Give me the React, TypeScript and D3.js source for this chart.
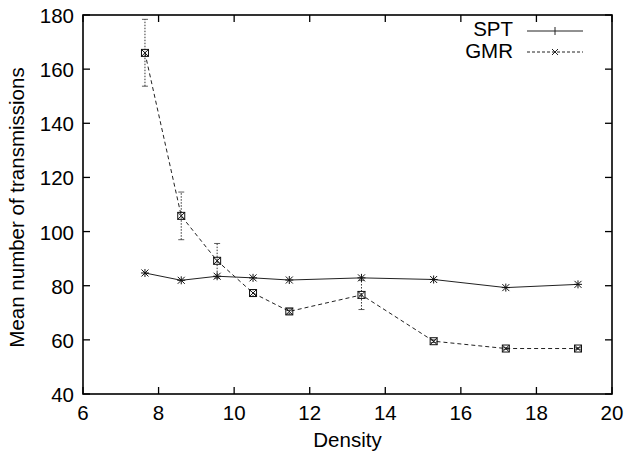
import React from "react";
import * as d3 from "d3";

const density = [7.64, 8.6, 9.55, 10.5, 11.46, 13.37, 15.28, 17.19, 19.1];
const sptValues = [84.7, 82.0, 83.5, 82.9, 82.1, 82.9, 82.3, 79.3, 80.5];
const gmrValues = [166.0, 105.8, 89.2, 77.3, 70.5, 76.6, 59.5, 56.8, 56.8];
const gmrLow = [153.7, 97.0, 82.8, 76.0, 69.5, 71.2, 59.0, 56.5, 56.5];
const gmrHigh = [178.4, 114.6, 95.6, 78.6, 71.5, 82.0, 60.0, 57.1, 57.1];
const xTicks = [6, 8, 10, 12, 14, 16, 18, 20];
const yTicks = [40, 60, 80, 100, 120, 140, 160, 180];
const seriesNames = ["SPT", "GMR"];

const W = 625;
const H = 457;
const M = { left: 83, right: 612, top: 15, bottom: 394 };
const FONT = "'Liberation Sans', Arial, Helvetica, sans-serif";
const FS = 20.5;

export default function App() {
  const x = d3.scaleLinear().domain([6, 20]).range([M.left, M.right]);
  const y = d3.scaleLinear().domain([40, 180]).range([M.bottom, M.top]);
  const line = d3
    .line<number>()
    .x((_, i) => x(density[i]))
    .y((d) => y(d));
  const tl = 7;
  const stroke = "#222";

  const star = (cx: number, cy: number, key: string) => (
    <g key={key} stroke="#111" strokeWidth={1}>
      <line x1={cx - 4} x2={cx + 4} y1={cy} y2={cy} />
      <line x1={cx} x2={cx} y1={cy - 4} y2={cy + 4} />
      <line x1={cx - 3.5} x2={cx + 3.5} y1={cy - 3.5} y2={cy + 3.5} />
      <line x1={cx - 3.5} x2={cx + 3.5} y1={cy + 3.5} y2={cy - 3.5} />
    </g>
  );
  const boxX = (cx: number, cy: number, key: string) => (
    <g key={key} stroke="#111" strokeWidth={1} fill="none">
      <rect x={cx - 3.5} y={cy - 3.5} width={7} height={7} />
      <line x1={cx - 3.5} x2={cx + 3.5} y1={cy - 3.5} y2={cy + 3.5} />
      <line x1={cx - 3.5} x2={cx + 3.5} y1={cy + 3.5} y2={cy - 3.5} />
    </g>
  );

  return (
    <svg
      width={W}
      height={H}
      style={{ position: "absolute", left: 0, top: 0 }}
      fontFamily={FONT}
    >
      <rect width={W} height={H} fill="#fff" />
      {xTicks.map((t) => (
        <g key={"xt" + t}>
          <line x1={x(t)} x2={x(t)} y1={M.bottom} y2={M.bottom - tl} stroke="#000" strokeWidth={1.3} />
          <line x1={x(t)} x2={x(t)} y1={M.top} y2={M.top + tl} stroke="#000" strokeWidth={1.3} />
          <text x={x(t)} y={420} textAnchor="middle" fontSize={FS} fill="#000">
            {t}
          </text>
        </g>
      ))}
      {yTicks.map((t) => (
        <g key={"yt" + t}>
          <line x1={M.left} x2={M.left + tl} y1={y(t)} y2={y(t)} stroke="#000" strokeWidth={1.3} />
          <line x1={M.right} x2={M.right - tl} y1={y(t)} y2={y(t)} stroke="#000" strokeWidth={1.3} />
          <text x={M.left - 9} y={y(t) + 8} textAnchor="end" fontSize={FS} fill="#000">
            {t}
          </text>
        </g>
      ))}
      <rect
        x={M.left}
        y={M.top}
        width={M.right - M.left}
        height={M.bottom - M.top}
        fill="none"
        stroke="#000"
        strokeWidth={1.6}
      />
      <text x={(M.left + M.right) / 2} y={447} textAnchor="middle" fontSize={FS} fill="#000">
        Density
      </text>
      <text
        transform={`translate(24,${(M.top + M.bottom) / 2 + 3}) rotate(-90)`}
        textAnchor="middle"
        fontSize={FS}
        fill="#000"
      >
        Mean number of transmissions
      </text>

      {density.map((d, i) => (
        <g key={"eb" + i} stroke="#333" strokeWidth={1} strokeDasharray="1.5,1.5">
          <line x1={x(d)} x2={x(d)} y1={y(gmrLow[i])} y2={y(gmrHigh[i])} />
          <line x1={x(d) - 3} x2={x(d) + 3} y1={y(gmrLow[i])} y2={y(gmrLow[i])} strokeDasharray="none" strokeWidth={0.8} />
          <line x1={x(d) - 3} x2={x(d) + 3} y1={y(gmrHigh[i])} y2={y(gmrHigh[i])} strokeDasharray="none" strokeWidth={0.8} />
        </g>
      ))}

      <path d={line(sptValues) || ""} fill="none" stroke={stroke} strokeWidth={1} />
      <path d={line(gmrValues) || ""} fill="none" stroke={stroke} strokeWidth={1} strokeDasharray="4,3" />
      {sptValues.map((v, i) => star(x(density[i]), y(v), "s" + i))}
      {gmrValues.map((v, i) => boxX(x(density[i]), y(v), "g" + i))}

      <text x={513} y={36} textAnchor="end" fontSize={FS} fill="#000">
        {seriesNames[0]}
      </text>
      <line x1={527} x2={583} y1={31} y2={31} stroke={stroke} strokeWidth={1} />
      <line x1={555} x2={555} y1={27} y2={35} stroke={stroke} strokeWidth={1} />
      <text x={513} y={58} textAnchor="end" fontSize={FS} fill="#000">
        {seriesNames[1]}
      </text>
      <line x1={527} x2={583} y1={52} y2={52} stroke={stroke} strokeWidth={1} strokeDasharray="3,2" />
      <line x1={552} x2={558} y1={49} y2={55} stroke={stroke} strokeWidth={1} />
      <line x1={552} x2={558} y1={55} y2={49} stroke={stroke} strokeWidth={1} />
    </svg>
  );
}
